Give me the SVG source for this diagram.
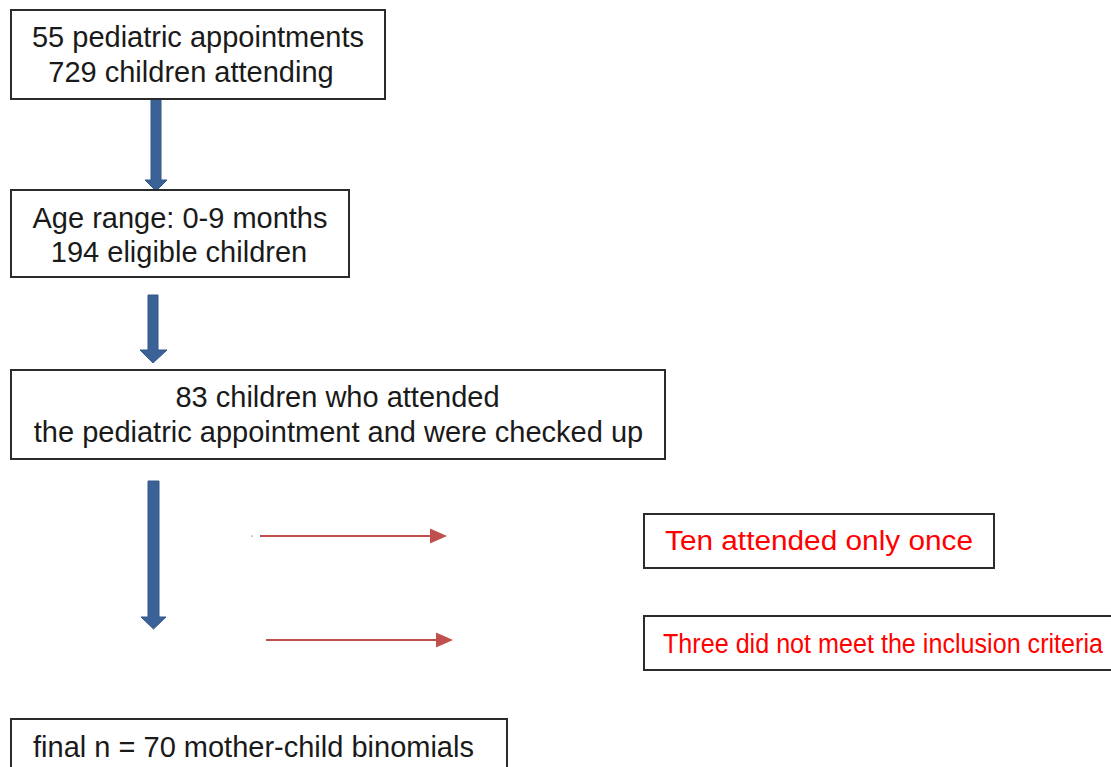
<svg xmlns="http://www.w3.org/2000/svg" width="1111" height="767" viewBox="0 0 1111 767">
<style>
.box{fill:#fff;stroke:#2b2b2b;stroke-width:2}
.t{font-family:"Liberation Sans",Arial,sans-serif;font-size:29px;fill:#1a1a1a;text-anchor:middle}
.r{font-family:"Liberation Sans",Arial,sans-serif;font-size:27px;fill:#ff0000}
.blue{fill:#3b6297;stroke:#33578a;stroke-width:1}
.red{stroke:#c0504d;stroke-width:2;fill:none}
.redhead{fill:#c0504d}
</style>
<rect width="1111" height="767" fill="#fff"/>
<g id="connectors">
  <path class="blue" d="M151,99 H161 V180 H167 L156,191 L145,180 H151 Z"/>
  <path class="blue" d="M148,295 H158 V350 H167 L153,363 L140,350 H148 Z"/>
  <path class="blue" d="M148,481 H159 V617 H166 L153.5,629 L141,617 H148 Z"/>
  <rect x="251.5" y="535.5" width="1.2" height="1.2" fill="#777"/>
  <line class="red" x1="260" y1="536" x2="432" y2="536"/>
  <path class="redhead" d="M430,528.5 L447,536 L430,543.5 Z"/>
  <line class="red" x1="266" y1="640" x2="438" y2="640"/>
  <path class="redhead" d="M436,632.5 L453,640 L436,647.5 Z"/>
</g>
<g id="n1">
  <rect class="box" x="11" y="10" width="374" height="89"/>
  <text class="t" x="198" y="47">55 pediatric appointments</text>
  <text class="t" x="191" y="82">729 children attending</text>
</g>
<g id="n2">
  <rect class="box" x="11" y="190" width="338" height="87"/>
  <text class="t" x="180" y="228">Age range: 0-9 months</text>
  <text class="t" x="179" y="262">194 eligible children</text>
</g>
<g id="n3">
  <rect class="box" x="11" y="370" width="654" height="89"/>
  <text class="t" x="337.5" y="407">83 children who attended</text>
  <text class="t" x="338.5" y="442">the pediatric appointment and were checked up</text>
</g>
<g id="n4">
  <rect class="box" x="644" y="514" width="350" height="54"/>
  <text class="r" x="665" y="550" textLength="308" lengthAdjust="spacingAndGlyphs">Ten attended only once</text>
</g>
<g id="n5">
  <rect class="box" x="644" y="616" width="480" height="54"/>
  <text class="r" x="663" y="653" textLength="440" lengthAdjust="spacingAndGlyphs">Three did not meet the inclusion criteria</text>
</g>
<g id="n6">
  <rect class="box" x="11" y="719" width="496" height="60"/>
  <text class="t" x="253.5" y="757">final n = 70 mother-child binomials</text>
</g>
</svg>
